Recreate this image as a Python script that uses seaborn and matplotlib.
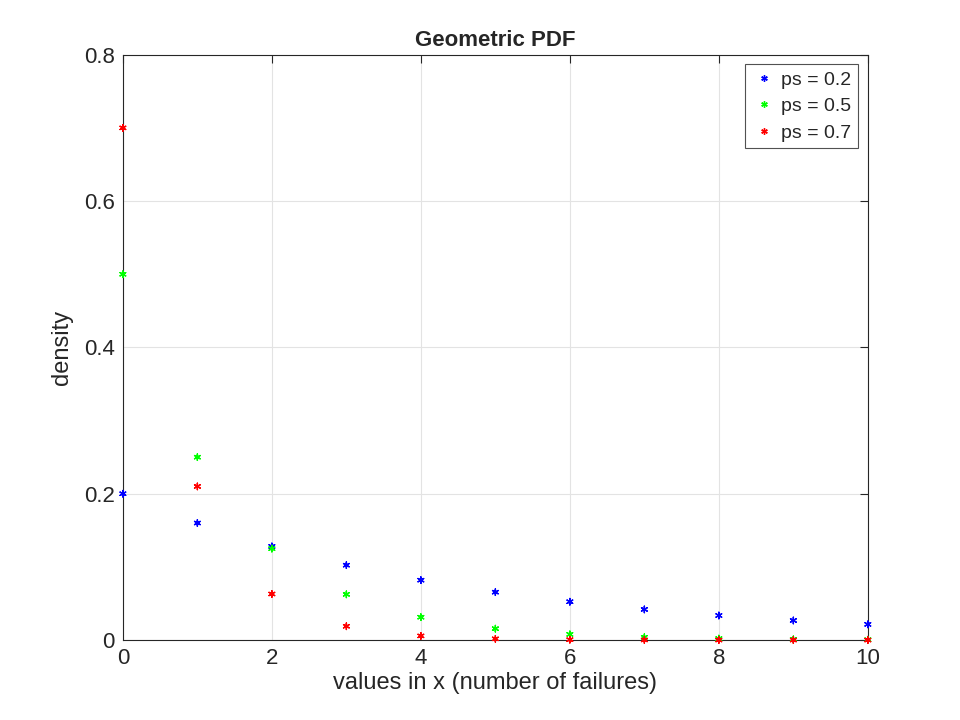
import matplotlib
matplotlib.use('Agg')
import matplotlib.pyplot as plt
import pandas as pd
import seaborn as sns

# values
x_vals = [0, 1, 2, 3, 4, 5, 6, 7, 8, 9, 10]
pdf_02 = [0.2, 0.16, 0.128, 0.1024, 0.0819, 0.0655, 0.0524, 0.0419, 0.0336, 0.0268, 0.0215]
pdf_05 = [0.5, 0.25, 0.125, 0.0625, 0.0313, 0.0156, 0.0078, 0.0039, 0.002, 0.001, 0.0005]
pdf_07 = [0.7, 0.21, 0.063, 0.0189, 0.0057, 0.0017, 0.0005, 0.00015, 0.00005, 0.00001, 0.000004]
labels = ['ps = 0.2', 'ps = 0.5', 'ps = 0.7']
colors = ['#0000ff', '#00ff00', '#ff0000']

df = pd.concat([
    pd.DataFrame({'x': x_vals, 'density': v, 'series': lab})
    for v, lab in zip([pdf_02, pdf_05, pdf_07], labels)
])

sns.set_style('white')
plt.rcParams['font.family'] = ['Liberation Sans', 'DejaVu Sans']

fig = plt.figure(figsize=(9.6, 7.2), dpi=100)
ax = fig.add_axes([0.128, 0.111, 0.776, 0.813])

sns.scatterplot(data=df, x='x', y='density', hue='series', palette=colors,
                marker=(6, 2, 0), s=22, linewidth=1.0, edgecolor='face',
                clip_on=False, zorder=3, ax=ax)

ax.set_xlim(0, 10)
ax.set_ylim(0, 0.8)
ax.set_xticks([0, 2, 4, 6, 8, 10])
ax.set_yticks([0, 0.2, 0.4, 0.6, 0.8])
ax.set_yticklabels(['0', '0.2', '0.4', '0.6', '0.8'])
ax.grid(True, color='#e3e3e3', linewidth=0.8)
ax.set_axisbelow(True)
for s in ax.spines.values():
    s.set_color('#262626')
    s.set_linewidth(0.8)
ax.tick_params(direction='in', length=6, width=0.8, top=True, right=True,
               labelsize=16, colors='#262626', pad=6)

ax.set_title('Geometric PDF', fontsize=16, fontweight='bold', pad=6)
ax.set_xlabel('values in x (number of failures)', fontsize=17, labelpad=2, color='#262626')
ax.set_ylabel('density', fontsize=17, labelpad=8, color='#262626')

leg = ax.legend(loc='upper right', fontsize=14, frameon=True, fancybox=False,
                edgecolor='#262626', handletextpad=0.3, borderpad=0.35,
                labelspacing=0.45, handlelength=1.2, borderaxespad=0.5)
leg.get_frame().set_linewidth(0.8)

fig.savefig('out.png', dpi=100)
